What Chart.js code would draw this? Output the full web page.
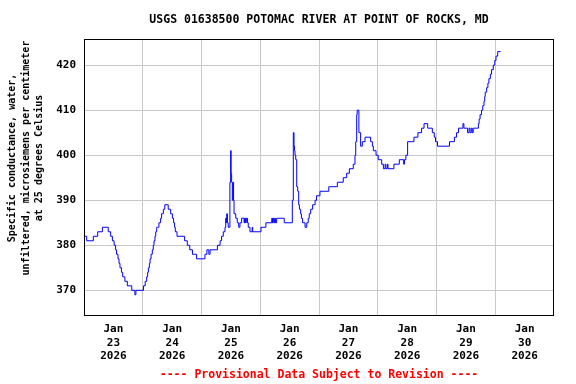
<!DOCTYPE html>
<html>
<head>
<meta charset="utf-8">
<script src="https://cdn.jsdelivr.net/npm/chart.js@4"></script>
<style>
  html, body { margin: 0; padding: 0; background: #fff; }
  #wrap { width: 576px; height: 384px; }
</style>
</head>
<body>
<div id="wrap"><canvas id="chart" width="576" height="384"></canvas></div>
<script>
const titleText = 'USGS 01638500 POTOMAC RIVER AT POINT OF ROCKS, MD'
const footerText = '---- Provisional Data Subject to Revision ----'
const yTitle = ['Specific conductance, water,', 'unfiltered, microsiemens per centimeter', 'at 25 degrees Celsius']

// hours since Jan 23 2026 00:00
const hours = [
  0.3, 1.1, 3.8, 5.6, 7.5, 9.9, 10.9, 11.6, 12.3, 12.9, 13.3, 13.9, 14.3, 14.7, 15.3, 15.8, 16.7, 17.7, 19.5, 20.8, 21.2,
  24.3, 25.0, 25.6, 26.0, 26.3, 26.7, 27.0, 27.4, 27.9, 28.3, 28.6, 29.0, 29.3, 29.7, 30.0, 30.6, 31.3, 31.7, 32.4, 33.0,
  34.4, 35.4, 36.1, 36.6, 37.0, 37.3, 38.0, 41.1, 42.2, 43.2, 44.3, 46.0, 49.4, 49.8, 50.2, 51.0, 51.5,
  54.5, 55.6, 56.2, 56.9, 57.6, 57.9, 58.1, 58.3, 58.6, 58.9, 59.6, 59.9, 60.1, 60.3, 60.6, 60.9, 61.1, 61.3, 61.7, 62.0,
  62.6, 63.2, 63.7, 64.4, 65.4, 65.6, 66.0, 66.3, 66.8, 67.1, 67.8, 68.7, 68.9, 72.3, 74.3, 76.7, 77.0, 77.3, 77.6, 77.9,
  78.2, 78.7, 81.8, 85.1, 85.5, 85.8, 86.0, 86.2, 86.5, 86.9, 87.3, 87.7, 88.0, 88.5, 88.8, 89.3, 90.3, 91.0, 91.6, 92.0,
  92.6, 93.4, 94.4, 95.0, 96.4, 100.0, 103.5, 105.9, 107.3, 108.4, 110.0, 110.7, 111.0, 111.4, 111.6, 112.3, 113.0, 113.7,
  114.8, 117.1, 117.8, 118.2, 119.3, 120.2, 121.6, 122.3, 123.0, 123.3, 123.9, 124.2, 126.6, 128.8, 130.6, 130.9, 131.5,
  132.2, 134.8, 136.4, 137.9, 138.9, 140.4, 142.3, 143.1, 143.6, 144.4, 149.3, 151.3, 152.2, 153.0, 154.8, 155.2, 156.7,
  157.3, 157.7, 158.2, 158.6, 159.0, 161.1, 161.4, 161.8, 162.4, 162.9, 163.4, 163.7, 163.9, 164.5, 165.0, 165.4, 166.0,
  166.5, 167.2, 167.8, 168.3, 169.0, 170.2
]
const conductance = [
  382, 381, 382, 383, 384, 383, 382, 381, 380, 379, 378, 377, 376, 375, 374, 373, 372, 371, 370, 369, 370,
  371, 372, 373, 374, 375, 376, 377, 378, 379, 380, 381, 382, 383, 384, 384, 385, 386, 387, 388, 389,
  388, 387, 386, 385, 384, 383, 382, 381, 380, 379, 378, 377, 378, 378, 379, 378, 379,
  380, 381, 382, 383, 384, 386, 385, 387, 385, 384, 394, 401, 396, 394, 390, 394, 390, 387, 387, 386,
  385, 384, 385, 386, 385, 386, 385, 386, 385, 384, 383, 384, 383, 384, 385, 386, 385, 386, 385, 386,
  385, 386, 385, 390, 405, 402, 401, 400, 399, 393, 392, 389, 388, 387, 386, 385, 384, 385, 386, 387,
  388, 389, 390, 391, 392, 393, 394, 395, 396, 397, 398, 400, 403, 409, 410, 405, 402, 403,
  404, 403, 402, 401, 400, 399, 398, 397, 398, 397, 398, 397, 398, 399, 398, 399, 400,
  403, 404, 405, 406, 407, 406, 405, 404, 403, 402, 403, 404, 405, 406, 407, 406, 405,
  406, 405, 406, 405, 406, 407, 408, 409, 410, 411, 412, 413, 414, 415, 416, 417, 418,
  419, 420, 421, 422, 423, 423
]
const yTicks = [370, 380, 390, 400, 410, 420]
const month = 'Jan'
const year = '2026'
const firstDay = 23

const mono = 'DejaVu Sans Mono'
Chart.defaults.font.family = mono
Chart.defaults.font.weight = 'bold'
Chart.defaults.color = '#000'

const points = []
for (let i = 0; i < hours.length; i++) {
  points.push({x: hours[i], y: conductance[i]})
}

const decor = {
  id: 'decor',
  afterDraw(chart) {
    const ctx = chart.ctx
    const a = chart.chartArea
    const cx = (a.left + a.right) / 2
    ctx.save()
    ctx.strokeStyle = '#000'
    ctx.lineWidth = 1
    ctx.strokeRect(a.left + 0.5, a.top + 0.5, a.right - a.left - 1, a.bottom - a.top - 1)

    ctx.textAlign = 'center'
    ctx.textBaseline = 'middle'
    ctx.fillStyle = '#000'
    ctx.font = 'bold 11.5px ' + mono
    ctx.fillText(titleText, cx, 20)

    ctx.fillStyle = '#ff0000'
    ctx.font = 'bold 11.5px ' + mono
    ctx.fillText(footerText, cx, 375)

    ctx.fillStyle = '#000'
    ctx.font = 'bold 10px ' + mono
    ctx.translate(26, 158)
    ctx.rotate(-Math.PI / 2)
    for (let i = 0; i < yTitle.length; i++) {
      ctx.fillText(yTitle[i], 0, (i - 1) * 13.5)
    }
    ctx.restore()
  }
}

new Chart(document.getElementById('chart').getContext('2d'), {
  type: 'line',
  data: {
    datasets: [{
      data: points,
      borderColor: '#0000ff',
      borderWidth: 1,
      pointRadius: 0,
      stepped: 'before',
      fill: false
    }]
  },
  options: {
    responsive: false,
    animation: false,
    layout: {padding: {top: 39, right: 22, left: 0, bottom: 0}},
    plugins: {legend: {display: false}, tooltip: {enabled: false}},
    scales: {
      x: {
        type: 'linear',
        min: 0,
        max: 192,
        afterBuildTicks: (axis) => {
          const t = []
          for (let v = 0; v <= 192; v += 12) t.push({value: v})
          axis.ticks = t
        },
        afterFit: (axis) => { axis.height = 68 },
        border: {display: false},
        grid: {
          drawTicks: false,
          color: (c) => (c.tick && c.tick.value % 24 === 0 && c.tick.value > 0 && c.tick.value < 192) ? '#c8c8c8' : 'rgba(0,0,0,0)',
          lineWidth: 1
        },
        ticks: {
          autoSkip: false,
          maxRotation: 0,
          padding: 7,
          font: {size: 11, weight: 'bold', lineHeight: 1.2},
          callback: (v) => (v % 24 === 12) ? [month, String(firstDay + (v - 12) / 24), year] : ''
        }
      },
      y: {
        min: 364.3,
        max: 425.8,
        afterBuildTicks: (axis) => { axis.ticks = yTicks.map(v => ({value: v})) },
        afterFit: (axis) => { axis.width = 84 },
        border: {display: false},
        grid: {drawTicks: false, color: '#c8c8c8', lineWidth: 1},
        ticks: {padding: 8, font: {size: 11, weight: 'bold'}}
      }
    }
  },
  plugins: [decor]
});
</script>
</body>
</html>
